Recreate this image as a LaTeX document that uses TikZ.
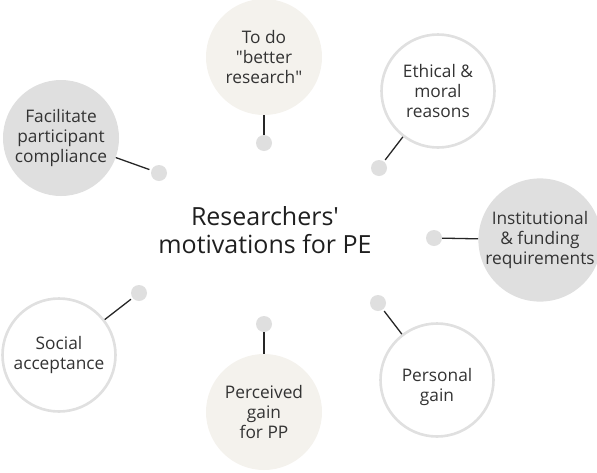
\documentclass[tikz,border=0pt]{standalone}
\usepackage{fontspec}
\setmainfont{Open Sans}
\usetikzlibrary{
positioning,
calc
}
\definecolor{beige}{HTML}{F4F2ED}
\definecolor{softgray}{HTML}{DFDFDF}
\definecolor{ringgray}{HTML}{E0E0E0}
\definecolor{txtgray}{HTML}{333333}
\tikzset{
bubbletext/.style={
align=center,
text=txtgray,
font=\fontsize{17.3}{19.8}\selectfont
},
bubble/.style={
circle,
inner sep=0pt,
minimum size=116pt,
bubbletext
},
filledbubble/.style={
bubble,
fill=softgray
},
beigebubble/.style={
bubble,
fill=beige
},
ringbubble/.style={
bubble,
draw=ringgray,
line width=2.6pt,
fill=white,
minimum size=113pt
},
dot/.style={
circle,
fill=softgray,
inner sep=0pt,
minimum size=16pt
},
link/.style={
line width=1.3pt,
draw=black!85
}
}

\begin{document}
\begin{tikzpicture}[x=1pt,y=-1pt]

\useasboundingbox (0,0) rectangle (597,472);

% central label
\node[align=center, text=black!88, font=\fontsize{25}{28}\selectfont] (title) at (265,230) {Researchers\textquotesingle\\motivations for PE};

% bubbles
\node[beigebubble] (research) at (264,57) {To do\\\textquotedbl better\\research\textquotedbl};
\node[ringbubble] (ethics) at (438,91) {Ethical \&\\moral\\reasons};
\node[filledbubble] (comply) at (61,138) {Facilitate\\participant\\compliance};
\node[filledbubble] (inst) at (540,240) {Institutional\\\& funding\\requirements};
\node[ringbubble] (social) at (59,355) {Social\\acceptance};
\node[beigebubble] (gainpp) at (264,412) {Perceived\\gain\\for PP};
\node[ringbubble, label={[bubbletext, yshift=-7pt]center:Personal\\gain}] (personal) at (437,380) {};

% dots
\node[dot] (d1) at (264,143) {};
\node[dot] (d2) at (379,168) {};
\node[dot] (d3) at (159,173) {};
\node[dot] (d4) at (434,238) {};
\node[dot] (d5) at (139,293) {};
\node[dot] (d6) at (264,324) {};
\node[dot] (d7) at (378,303) {};

% connectors
\draw[link] (d1) -- (research);
\draw[link, shorten <=2pt] (d2) -- (ethics);
\draw[link, shorten <=2pt] (d3) -- (comply);
\draw[link] (d4) -- (inst);
\draw[link, shorten <=2pt] (d5) -- (social);
\draw[link] (d6) -- (gainpp);
\draw[link, shorten <=2pt] (d7) -- (personal);

\end{tikzpicture}
\end{document}
